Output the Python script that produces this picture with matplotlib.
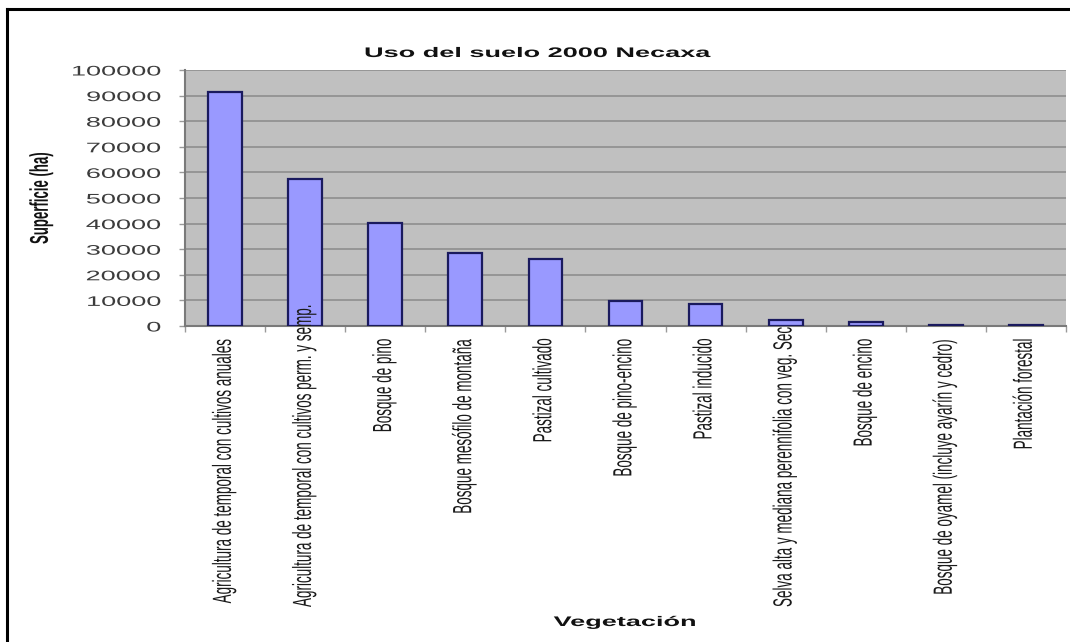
import matplotlib
matplotlib.use("Agg")
import matplotlib.pyplot as plt
from matplotlib.patheffects import AbstractPathEffect
from matplotlib.transforms import Affine2D, blended_transform_factory
from matplotlib.lines import Line2D

# ---- data -------------------------------------------------------------
categories = [
    "Agricultura de temporal con cultivos anuales",
    "Agricultura de temporal con cultivos perm. y semp.",
    "Bosque de pino",
    "Bosque mesófilo de montaña",
    "Pastizal cultivado",
    "Bosque de pino-encino",
    "Pastizal inducido",
    "Selva alta y mediana perennifolia con veg. Sec",
    "Bosque de encino",
    "Bosque de oyamel (incluye ayarín y cedro)",
    "Plantación forestal",
]
superficie_ha = [91400, 57300, 40200, 28500, 26200, 9900, 8700, 2300, 1600, 400, 300]
y_ticks = [0, 10000, 20000, 30000, 40000, 50000, 60000, 70000, 80000, 90000, 100000]

title = "Uso del suelo 2000 Necaxa"
x_title = "Vegetación"
y_title = "Superficie (ha)"

# ---- styling ----------------------------------------------------------
W, H = 1070, 642
FONT = "Liberation Sans"
STRETCH = 1.95          # wide, horizontally expanded lettering
plt.rcParams["font.family"] = [FONT, "DejaVu Sans"]


class HStretch(AbstractPathEffect):
    """Widen a text horizontally about its anchor point."""

    def __init__(self, text, sx):
        super().__init__()
        self.text = text
        self.sx = sx

    def draw_path(self, renderer, gc, tpath, affine, rgbFace=None):
        x0, y0 = self.text.get_transform().transform(self.text.get_unitless_position())
        st = Affine2D().translate(-x0, -y0).scale(self.sx, 1.0).translate(x0, y0)
        renderer.draw_path(gc, tpath, affine + st, rgbFace)


def widen(t, sx=STRETCH):
    t.set_path_effects([HStretch(t, sx)])
    return t


fig = plt.figure(figsize=(W / 100, H / 100), dpi=100)
fig.patch.set_facecolor("white")

left, right, top, bottom = 185, 1066, 70, 326
ax = fig.add_axes([left / W, 1 - bottom / H, (right - left) / W, (bottom - top) / H])
ax.set_facecolor("#c0c0c0")

x = list(range(len(categories)))
ax.bar(x, superficie_ha, width=0.42, color="#9999ff", edgecolor="#1a1a5e",
       linewidth=1.6, zorder=3)

ax.set_xlim(-0.5, len(categories) - 0.5)
ax.set_ylim(0, 100000)
ax.set_yticks(y_ticks)
ax.set_yticklabels([str(v) for v in y_ticks])
ax.yaxis.grid(True, color="#8e8e8e", linewidth=1.2, zorder=0)
ax.set_axisbelow(True)

ax.set_xticks([i + 0.5 for i in range(-1, len(categories))])
ax.set_xticklabels([])
ax.tick_params(axis="x", length=4, width=1, color="#9a9a9a", direction="out")
ax.tick_params(axis="y", length=4, width=1, color="#9a9a9a", direction="out",
               pad=13, labelsize=10, labelcolor="#3c3c3c")

for side in ("top", "right"):
    ax.spines[side].set_visible(False)
for side in ("left", "bottom"):
    ax.spines[side].set_color("#7a7a7a")
    ax.spines[side].set_linewidth(1.5)

for lbl in ax.get_yticklabels():
    widen(lbl)

# category labels, rotated under the axis; long ones are pushed up so
# they end at the common floor line
label_top = 1 - 338 / H
label_floor = 1 - 607 / H
bt = blended_transform_factory(ax.transData, fig.transFigure)
xlabels = []
for i, name in enumerate(categories):
    t = ax.text(i, label_top, name, rotation=90, ha="center", va="top",
                fontsize=9.7, color="#1a1a1a", transform=bt, clip_on=False,
                zorder=5)
    xlabels.append(t)

fig.canvas.draw()
renderer = fig.canvas.get_renderer()
for t in xlabels:
    bb = t.get_window_extent(renderer)
    if bb.y0 < label_floor * H:
        t.set_va("bottom")
        t.set_y(label_floor)
for t in xlabels:
    widen(t)

widen(fig.text(537 / W, 1 - 53 / H, title, ha="center", va="center",
               fontsize=10, fontweight="bold", color="#111111"))
widen(fig.text(625 / W, 1 - 622 / H, x_title, ha="center", va="center",
               fontsize=10, fontweight="bold", color="#111111"))
widen(fig.text(42 / W, 1 - 198 / H, y_title, ha="center", va="center",
               rotation=90, fontsize=9.5, fontweight="bold", color="#111111"))

# outer frame (top and left edges)
fig.add_artist(Line2D([7 / W, 1], [1 - 9 / H, 1 - 9 / H], transform=fig.transFigure,
                      color="black", linewidth=2.2))
fig.add_artist(Line2D([7 / W, 7 / W], [0, 1 - 9 / H], transform=fig.transFigure,
                      color="black", linewidth=2.2))

fig.savefig("out.png", dpi=100, facecolor="white")
